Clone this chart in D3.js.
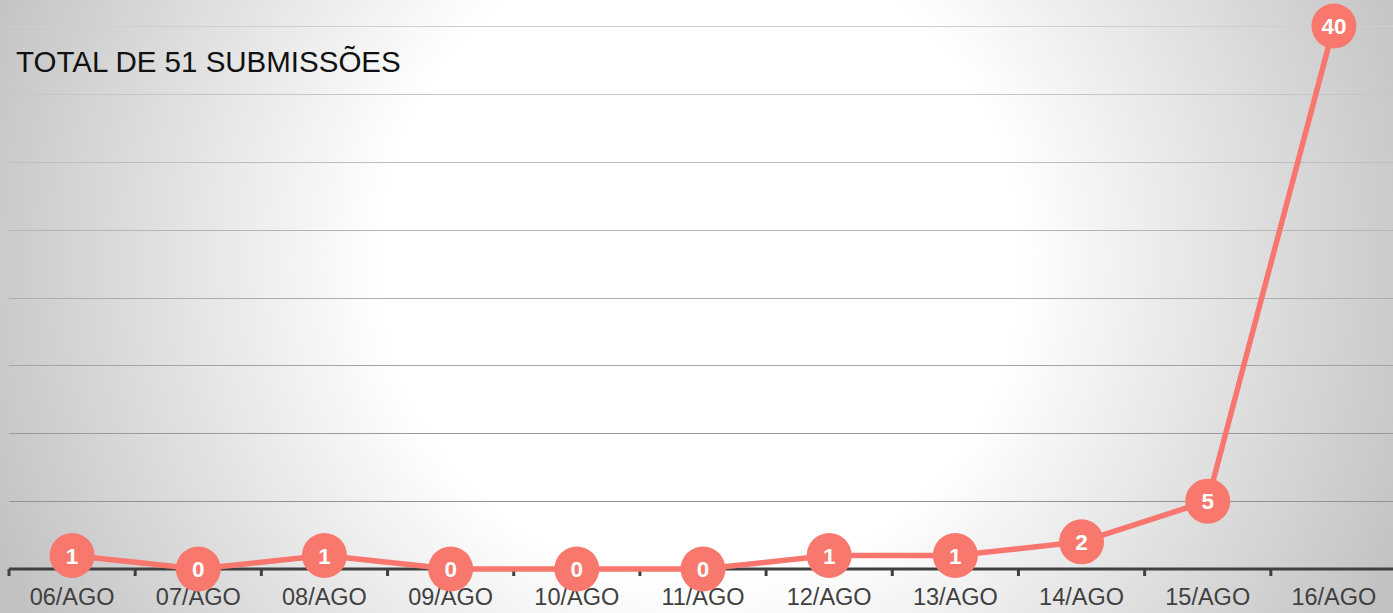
<!DOCTYPE html>
<html>
<head>
<meta charset="utf-8">
<script src="https://cdn.jsdelivr.net/npm/d3@7"></script>
<style>
  html, body { margin: 0; padding: 0; overflow: hidden; background: #fff; }
  svg { display: block; }
</style>
</head>
<body>
<div id="chart"></div>
<script>
// chart data
const categories = ['06/AGO', '07/AGO', '08/AGO', '09/AGO', '10/AGO', '11/AGO', '12/AGO', '13/AGO', '14/AGO', '15/AGO', '16/AGO'];
const submissions = [1, 0, 1, 0, 0, 0, 1, 1, 2, 5, 40];
const yTicks = [0, 5, 10, 15, 20, 25, 30, 35, 40];
const titleText = 'TOTAL DE 51 SUBMISSÕES';

const width = 1393, height = 613;
const svg = d3.select('#chart').append('svg')
    .attr('width', width)
    .attr('height', height);

// radial background
const defs = svg.append('defs');
const grad = defs.append('radialGradient')
    .attr('id', 'bg')
    .attr('gradientUnits', 'userSpaceOnUse')
    .attr('cx', 700).attr('cy', 260).attr('r', 760);
grad.append('stop').attr('offset', '0').attr('stop-color', '#ffffff');
grad.append('stop').attr('offset', '0.42').attr('stop-color', '#ffffff');
grad.append('stop').attr('offset', '1').attr('stop-color', '#c2c2c2');
svg.append('rect')
    .attr('width', width).attr('height', height)
    .attr('fill', 'url(#bg)');

const x = d3.scaleBand()
    .domain(categories)
    .range([9, 1397]);
const y = d3.scaleLinear()
    .domain([0, 40])
    .range([569, 26]);

// gridlines
const gridColor = d3.scaleLinear().domain([40, 0]).range(['#cfcfcf', '#8a8a8a']);
svg.append('g')
    .selectAll('line')
    .data(yTicks.filter(d => d > 0))
    .join('line')
    .attr('x1', 9)
    .attr('x2', width)
    .attr('y1', d => Math.round(y(d)) + 0.5)
    .attr('y2', d => Math.round(y(d)) + 0.5)
    .attr('stroke', d => gridColor(d))
    .attr('stroke-width', 1.2);

// x axis
const xAxis = svg.append('g')
    .attr('transform', 'translate(0,' + y(0) + ')')
    .call(d3.axisBottom(x).tickSize(0).tickPadding(0));
xAxis.select('.domain').remove();
xAxis.append('line')
    .attr('x1', 9).attr('x2', width)
    .attr('y1', 0).attr('y2', 0)
    .attr('stroke', '#404040')
    .attr('stroke-width', 3);
const bounds = categories.map(c => x(c)).concat([x(categories[categories.length - 1]) + x.bandwidth()]);
xAxis.selectAll('.boundary')
    .data(bounds)
    .join('line')
    .attr('class', 'boundary')
    .attr('x1', d => d).attr('x2', d => d)
    .attr('y1', 0).attr('y2', 7)
    .attr('stroke', '#404040')
    .attr('stroke-width', 3);
xAxis.selectAll('.tick text')
    .attr('y', 36)
    .attr('dy', 0)
    .attr('fill', '#404040')
    .style('font-family', 'Liberation Sans, Arial, sans-serif')
    .style('font-size', '23.5px');

// line
const cx = d => x(d.cat) + x.bandwidth() / 2;
const pts = categories.map((c, i) => ({ cat: c, v: submissions[i] }));
svg.append('path')
    .datum(pts)
    .attr('d', d3.line().x(cx).y(d => y(d.v)))
    .attr('fill', 'none')
    .attr('stroke', '#f8766d')
    .attr('stroke-width', 5.5)
    .attr('stroke-linejoin', 'round');

// markers
const marks = svg.append('g')
    .selectAll('g')
    .data(pts)
    .join('g')
    .attr('transform', d => 'translate(' + cx(d) + ',' + y(d.v) + ')');
marks.append('circle')
    .attr('r', 22.5)
    .attr('fill', '#f8786d');
marks.append('text')
    .attr('text-anchor', 'middle')
    .attr('dy', '0.36em')
    .attr('fill', '#ffffff')
    .style('font-family', 'Liberation Sans, Arial, sans-serif')
    .style('font-weight', 'bold')
    .style('font-size', '22.5px')
    .text(d => d.v);

// title
svg.append('text')
    .attr('x', 16)
    .attr('y', 72)
    .attr('fill', '#111')
    .style('font-family', 'Liberation Sans, Arial, sans-serif')
    .style('font-size', '29.5px')
    .text(titleText);
</script>
</body>
</html>
